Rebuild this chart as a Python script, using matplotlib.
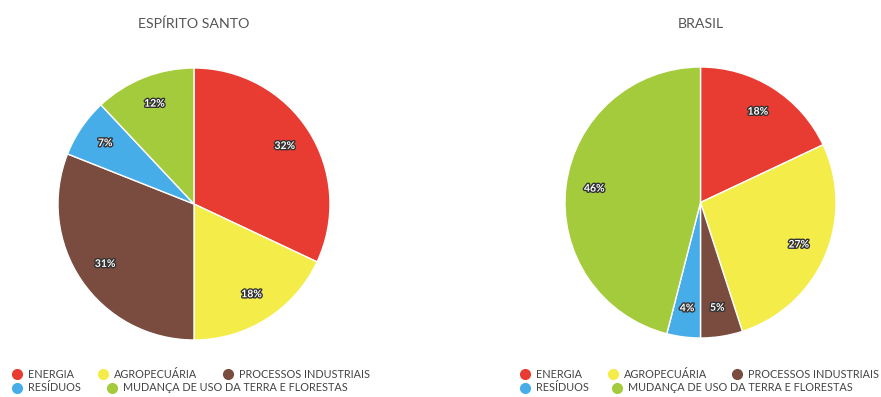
import matplotlib
matplotlib.use("Agg")
import matplotlib.pyplot as plt
import matplotlib.patheffects as pe
from matplotlib.lines import Line2D

categories = ["ENERGIA", "AGROPECUÁRIA", "PROCESSOS INDUSTRIAIS", "RESÍDUOS",
              "MUDANÇA DE USO DA TERRA E FLORESTAS"]
es_values = [32, 18, 31, 7, 12]
br_values = [18, 27, 5, 4, 46]
titles = ["ESPÍRITO SANTO", "BRASIL"]
colors = ["#E83B32", "#F4EC48", "#7A4B3F", "#47ADE9", "#A4CB3C"]

W, H = 881, 397
fig = plt.figure(figsize=(W / 100, H / 100), dpi=100)
plt.rcParams['font.family'] = ['Lato', 'DejaVu Sans']

def px_axes(cx, cy, r):
    return fig.add_axes([(cx - r) / W, (H - cy - r) / H, 2 * r / W, 2 * r / H])

pies = [(es_values, 194, 204, 136, titles[0]), (br_values, 700.5, 202.5, 135.5, titles[1])]
# legend marker x positions: row1 (3 items), row2 (2 items)
legend_pos = [([17, 103, 228], [17, 112]), ([525, 613, 737], [525, 617])]

for i, (vals, cx, cy, r, title) in enumerate(pies):
    ax = px_axes(cx, cy, r)
    wedges, texts, autotexts = ax.pie(
        vals, colors=colors, startangle=90, counterclock=False,
        autopct=lambda p: f"{p:.0f}%", pctdistance=0.79,
        wedgeprops=dict(edgecolor="white", linewidth=1.0),
        textprops=dict(color="white", fontsize=7.5, fontweight="bold"))
    for t in autotexts:
        t.set_path_effects([pe.withStroke(linewidth=2, foreground="#333333")])
    ax.set_xlim(-1, 1)
    ax.set_ylim(-1, 1)
    ax.set_aspect("auto")
    ax.axis("off")
    fig.text(cx / W, 1 - 24 / H, title, ha="center", va="center",
             fontsize=10.2, color="#555555")

    row1, row2 = legend_pos[i]
    rows = [list(zip(row1, [0, 1, 2])), list(zip(row2, [3, 4]))]
    for ri, row in enumerate(rows):
        y = 374 + ri * 13.5
        for (mx, ci) in row:
            fig.lines.append(Line2D([mx / W], [1 - y / H], marker="o", markersize=7,
                                    color=colors[ci], linestyle="none",
                                    transform=fig.transFigure))
            fig.text((mx + 11) / W, 1 - y / H, categories[ci], ha="left", va="center",
                     fontsize=7.8, color="#444444")

fig.savefig("out.png", dpi=100)
